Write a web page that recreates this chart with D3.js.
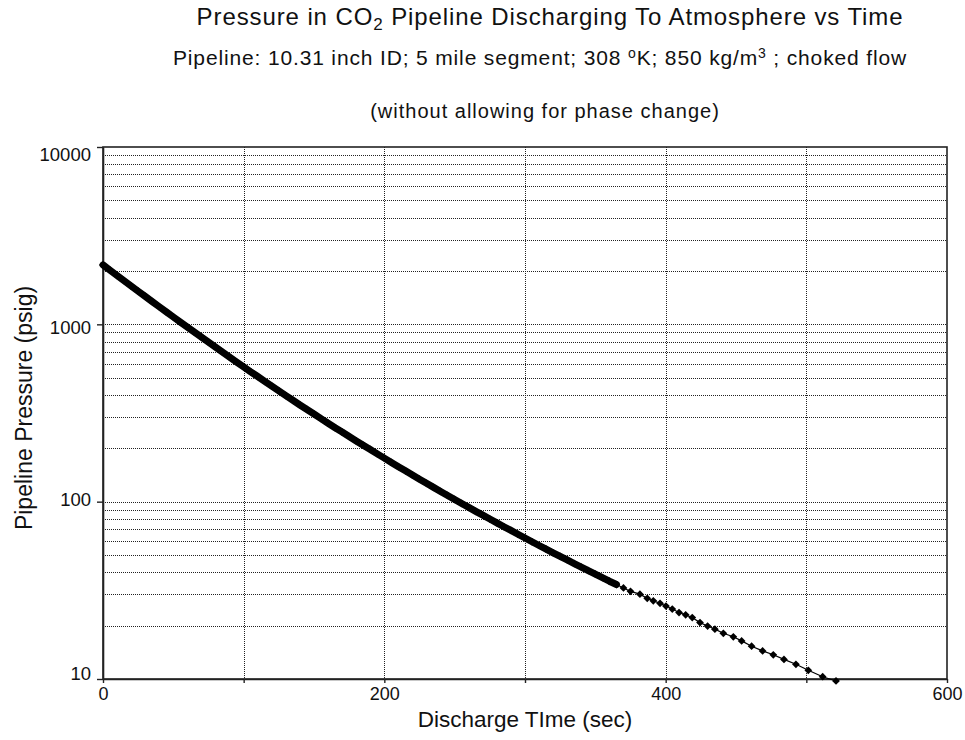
<!DOCTYPE html>
<html>
<head>
<meta charset="utf-8">
<script src="https://cdn.jsdelivr.net/npm/d3@7/dist/d3.min.js"></script>
<style>
  html, body { margin: 0; padding: 0; background: #fff; }
  svg { display: block; }
  text { font-family: "Liberation Sans", Arial, sans-serif; fill: #111; }
</style>
</head>
<body>
<svg id="chart" width="965" height="740"></svg>
<script>
// ---- data ----
const times = [
  0, 5, 10, 15, 20, 25, 30, 35, 40, 45, 50, 55, 60, 65, 70, 75, 80, 85, 90, 95, 100,
  105, 110, 115, 120, 125, 130, 135, 140, 145, 150, 155, 160, 165, 170, 175, 180, 185, 190, 195, 200,
  205, 210, 215, 220, 225, 230, 235, 240, 245, 250, 255, 260, 265, 270, 275, 280, 285, 290, 295, 300,
  305, 310, 315, 320, 325, 330, 335, 340, 345, 350, 355, 360, 365, 370, 375,
  381.7, 386.9, 391.2, 396.0, 400.2, 404.7, 409.5, 414.2, 418.9, 424.4, 429.8, 435.0,
  441.0, 448.1, 454.0, 461.1, 468.9, 476.5, 484.1, 492.6, 501.4, 511.6, 521.1
];
const pressures = [
  2163, 2019, 1885, 1761, 1644, 1537, 1437, 1343, 1256, 1175, 1100, 1029, 964, 903, 846, 793, 743, 697, 654, 613, 575,
  540, 508, 477, 448, 421, 396, 373, 351, 331, 312, 294, 277, 261, 247, 233, 220, 208, 197, 186, 176,
  166.4, 157.5, 149.2, 141.3, 133.9, 126.9, 120.4, 114.2, 108.4, 102.9, 97.7, 92.9, 88.2, 83.9, 79.8, 75.9, 72.2, 68.8, 65.5, 62.4,
  59.4, 56.6, 54.0, 51.5, 49.1, 46.9, 44.8, 42.8, 40.8, 39.0, 37.3, 35.6, 34.1, 32.6, 31.2,
  30.1, 28.5, 27.6, 26.7, 25.8, 24.8, 23.7, 23.0, 22.2, 20.8, 19.9, 19.1,
  18.1, 17.3, 16.4, 15.3, 14.4, 13.7, 12.9, 12.1, 11.2, 10.3, 9.75
];
const xTickValues = [0, 100, 200, 300, 400, 500, 600];
const xTickLabels = ["0", "", "200", "", "400", "", "600"];
const yTickValues = [10, 100, 1000, 10000];
const yTickLabels = ["10", "100", "1000", "10000"];
const yGridValues = [20, 30, 40, 50, 60, 70, 80, 90, 100, 200, 300, 400, 500, 600, 700, 800, 900, 1000,
                     2000, 3000, 4000, 5000, 6000, 7000, 8000, 9000];
const xGridValues = [100, 200, 300, 400, 500];
const denseLimit = 365; // points up to here merge into a solid band

const data = times.map((t, i) => ({ t, p: pressures[i] }));

// ---- layout ----
const svg = d3.select("#chart");
const L = 103, R = 947, T = 147, B = 679;
const x = d3.scaleLinear().domain([0, 600]).range([L, R]);
const y = d3.scaleLog().domain([10, 10000]).range([B, T]);

// titles
const t1 = svg.append("text").attr("x", 550).attr("y", 25).attr("text-anchor", "middle")
  .style("font-size", "24px").style("letter-spacing", "0.9px");
t1.append("tspan").text("Pressure in CO");
t1.append("tspan").attr("dy", 5).style("font-size", "17px").text("2");
t1.append("tspan").attr("dy", -5).text(" Pipeline Discharging To Atmosphere vs Time");

const t2 = svg.append("text").attr("x", 540).attr("y", 65).attr("text-anchor", "middle")
  .style("font-size", "21px").style("letter-spacing", "0.85px");
t2.append("tspan").text("Pipeline: 10.31 inch ID; 5 mile segment; 308 ");
t2.append("tspan").attr("dy", -7).style("font-size", "14px").text("o");
t2.append("tspan").attr("dy", 7).text("K; 850 kg/m");
t2.append("tspan").attr("dy", -7).style("font-size", "14px").text("3");
t2.append("tspan").attr("dy", 7).text(" ; choked flow");

svg.append("text").attr("x", 545).attr("y", 118).attr("text-anchor", "middle")
  .style("font-size", "20px").style("letter-spacing", "1px")
  .text("(without allowing for phase change)");

// grid
const g = svg.append("g");
g.selectAll("line.hg").data(yGridValues).join("line").attr("class", "hg")
  .attr("x1", L).attr("x2", R)
  .attr("y1", d => Math.round(y(d)) + 0.5).attr("y2", d => Math.round(y(d)) + 0.5)
  .attr("stroke", "#222").attr("stroke-width", 1).attr("stroke-dasharray", "1,1");
g.selectAll("line.vg").data(xGridValues).join("line").attr("class", "vg")
  .attr("y1", T).attr("y2", B)
  .attr("x1", d => Math.round(x(d)) + 0.5).attr("x2", d => Math.round(x(d)) + 0.5)
  .attr("stroke", "#222").attr("stroke-width", 1).attr("stroke-dasharray", "1,1");

// frame
svg.append("rect").attr("x", L).attr("y", T).attr("width", R - L).attr("height", B - T)
  .attr("fill", "none").attr("stroke", "#222").attr("stroke-width", 1.6);

// axes
const xAxis = d3.axisBottom(x).tickValues(xTickValues)
  .tickFormat((d, i) => xTickLabels[i]).tickSizeInner(4).tickSizeOuter(0).tickPadding(4);
const gx = svg.append("g").attr("transform", `translate(0,${B})`).call(xAxis);
gx.select(".domain").attr("stroke", "#222").attr("stroke-width", 1.6);
gx.selectAll(".tick line").attr("stroke", "#222").attr("stroke-width", 1.4);
gx.selectAll(".tick text").style("font-size", "18px").attr("fill", "#111")
  .attr("font-family", "Liberation Sans, Arial, sans-serif");

const yAxis = d3.axisLeft(y).tickValues(yTickValues)
  .tickFormat((d, i) => yTickLabels[i]).tickSizeInner(6).tickSizeOuter(0).tickPadding(6);
const gy = svg.append("g").attr("transform", `translate(${L},0)`).call(yAxis);
gy.select(".domain").attr("stroke", "#222").attr("stroke-width", 1.6);
gy.selectAll(".tick line").attr("stroke", "#222").attr("stroke-width", 1.4);
gy.selectAll(".tick text").style("font-size", "18.5px").attr("fill", "#111")
  .attr("font-family", "Liberation Sans, Arial, sans-serif")
  .attr("dy", (d, i) => (13 * i / 3).toFixed(1) + "px")
  .attr("x", -12);

// axis titles
svg.append("text").attr("x", (L + R) / 2).attr("y", 727).attr("text-anchor", "middle")
  .style("font-size", "22.5px").text("Discharge TIme (sec)");
svg.append("text").attr("transform", `translate(32,408) rotate(-90)`).attr("text-anchor", "middle")
  .style("font-size", "23px").text("Pipeline Pressure (psig)");

// series
const line = d3.line().x(d => x(d.t)).y(d => y(d.p));
svg.append("path").datum(data.filter(d => d.t <= denseLimit)).attr("d", line)
  .attr("fill", "none").attr("stroke", "#000").attr("stroke-width", 7)
  .attr("stroke-linejoin", "round").attr("stroke-linecap", "round");
svg.append("path").datum(data).attr("d", line)
  .attr("fill", "none").attr("stroke", "#000").attr("stroke-width", 1.2);
const sym = d3.symbol().type(d3.symbolSquare).size(30);
svg.append("g").selectAll("path").data(data).join("path")
  .attr("d", sym)
  .attr("transform", d => `translate(${x(d.t)},${y(d.p)}) rotate(45)`)
  .attr("fill", "#000");
</script>
</body>
</html>
